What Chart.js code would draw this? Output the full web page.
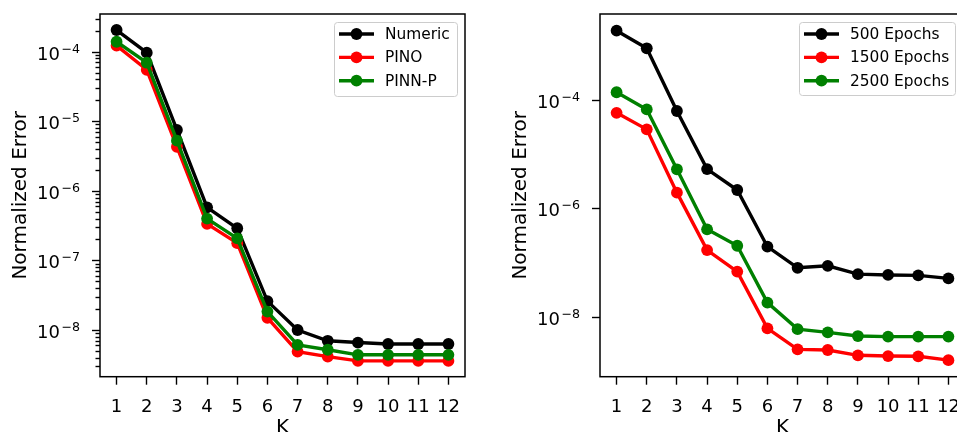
<!DOCTYPE html>
<html>
<head>
<meta charset="utf-8">
<script src="https://cdn.jsdelivr.net/npm/chart.js@4.4.1/dist/chart.umd.min.js"></script>
<style>
  html, body { margin: 0; padding: 0; background: #fff; overflow: hidden; width: 957px; height: 432px; }
  .panel { position: absolute; top: 0; height: 432px; }
  #leftPanel { left: 0; width: 480px; }
  #rightPanel { left: 480px; width: 500px; }
</style>
</head>
<body>
<div class="panel" id="leftPanel"><canvas id="chartK" width="480" height="432"></canvas></div>
<div class="panel" id="rightPanel"><canvas id="chartEpochs" width="500" height="432"></canvas></div>
<script>
// Number of terms K on the horizontal axis
const kValues = [1, 2, 3, 4, 5, 6, 7, 8, 9, 10, 11, 12];

// Left panel: solver comparison
const numericError = [2.05e-4, 9.7e-5, 7.5e-6, 5.8e-7, 2.9e-7, 2.6e-8, 1.0e-8, 7.0e-9, 6.6e-9, 6.3e-9, 6.3e-9, 6.3e-9];
const pinoError    = [1.22e-4, 5.5e-5, 4.3e-6, 3.35e-7, 1.77e-7, 1.5e-8, 4.9e-9, 4.15e-9, 3.6e-9, 3.6e-9, 3.6e-9, 3.6e-9];
const pinnPError   = [1.39e-4, 6.95e-5, 5.26e-6, 4.0e-7, 2.08e-7, 1.84e-8, 6.1e-9, 5.2e-9, 4.4e-9, 4.4e-9, 4.4e-9, 4.4e-9];

// Right panel: training length comparison
const epochs500  = [1.9e-3, 9.0e-4, 6.26e-5, 5.3e-6, 2.18e-6, 1.96e-7, 8.0e-8, 8.7e-8, 6.1e-8, 5.9e-8, 5.8e-8, 5.1e-8];
const epochs1500 = [5.8e-5, 2.87e-5, 1.95e-6, 1.70e-7, 6.8e-8, 6.1e-9, 2.5e-9, 2.43e-9, 1.94e-9, 1.88e-9, 1.86e-9, 1.58e-9];
const epochs2500 = [1.39e-4, 6.7e-5, 5.26e-6, 4.1e-7, 2.04e-7, 1.82e-8, 5.9e-9, 5.14e-9, 4.4e-9, 4.3e-9, 4.3e-9, 4.3e-9];

// Labelled decades (powers of ten) on each y axis
const leftMajorExps  = [-4, -5, -6, -7, -8];
const rightMajorExps = [-4, -6, -8];

// Visible y ranges, as exponents of ten
const leftYRange  = [-8.671, -3.458];
const rightYRange = [-9.107, -2.413];

const FONT = '"DejaVu Sans", "Liberation Sans", sans-serif';
const LINE_WIDTH = 3.4;
const MARKER_RADIUS = 5.9;

function series(values) {
  return kValues.map((k, i) => ({ x: k, y: values[i] }));
}

function makeDataset(label, values, color, order) {
  return {
    label: label,
    data: series(values),
    borderColor: color,
    backgroundColor: color,
    borderWidth: LINE_WIDTH,
    pointRadius: MARKER_RADIUS,
    pointHoverRadius: MARKER_RADIUS,
    pointBorderWidth: 0,
    tension: 0,
    order: order
  };
}

// Draws the axes frame, log-axis ticks with superscript labels, and the legend box
const framePlugin = {
  id: 'frameTicksLegend',
  afterDraw(chart, args, opts) {
    const ctx = chart.ctx;
    const area = chart.chartArea;
    const yScale = chart.scales.y;
    ctx.save();

    // y tick marks
    ctx.strokeStyle = '#000';
    ctx.lineWidth = 1.4;
    const lo = Math.log10(yScale.min), hi = Math.log10(yScale.max);
    if (opts.minorTicks) {
      for (let e = Math.floor(lo); e <= Math.ceil(hi); e++) {
        for (let m = 2; m <= 9; m++) {
          const v = m * Math.pow(10, e);
          if (v < yScale.min || v > yScale.max) continue;
          const y = Math.round(yScale.getPixelForValue(v)) + 0.5;
          ctx.beginPath();
          ctx.moveTo(area.left, y);
          ctx.lineTo(area.left - 4.5, y);
          ctx.stroke();
        }
      }
    }
    opts.majorExps.forEach(e => {
      const y = Math.round(yScale.getPixelForValue(Math.pow(10, e))) + 0.5;
      ctx.beginPath();
      ctx.moveTo(area.left, y);
      ctx.lineTo(area.left - 8, y);
      ctx.stroke();

      // "10" with a raised exponent
      const expText = '\u2212' + Math.abs(e);
      const xRight = area.left - 20;
      ctx.fillStyle = '#000';
      ctx.textBaseline = 'alphabetic';
      ctx.textAlign = 'right';
      ctx.font = '12.6px ' + FONT;
      ctx.fillText(expText, xRight, y + 0.5);
      const expW = ctx.measureText(expText).width;
      ctx.font = '18px ' + FONT;
      ctx.fillText('10', xRight - expW - 1.5, y + 7.6);
    });

    // frame around the plotting area
    ctx.lineWidth = 1.5;
    ctx.strokeRect(area.left, area.top, area.right - area.left, area.bottom - area.top);

    // legend
    const lg = opts.legend;
    const bx = area.right - lg.rightInset - lg.width;
    const by = area.top + lg.topInset;
    ctx.beginPath();
    if (ctx.roundRect) ctx.roundRect(bx + 0.5, by + 0.5, lg.width, lg.height, 3);
    else ctx.rect(bx + 0.5, by + 0.5, lg.width, lg.height);
    ctx.fillStyle = 'rgba(255,255,255,0.8)';
    ctx.fill();
    ctx.strokeStyle = '#cccccc';
    ctx.lineWidth = 1;
    ctx.stroke();

    const rowOffsets = [12, 35.4, 58.7];
    chart.data.datasets.forEach((ds, i) => {
      const cy = by + rowOffsets[i];
      ctx.strokeStyle = ds.borderColor;
      ctx.lineWidth = LINE_WIDTH;
      ctx.beginPath();
      ctx.moveTo(bx + 5, cy);
      ctx.lineTo(bx + 40, cy);
      ctx.stroke();
      ctx.fillStyle = ds.borderColor;
      ctx.beginPath();
      ctx.arc(bx + 22.5, cy, MARKER_RADIUS, 0, Math.PI * 2);
      ctx.fill();
      ctx.fillStyle = '#000';
      ctx.font = '15.4px ' + FONT;
      ctx.textAlign = 'left';
      ctx.textBaseline = 'middle';
      ctx.fillText(ds.label, bx + 51, cy + 1);
    });
    ctx.restore();
  }
};

function buildChart(canvasId, datasets, yRange, yAxisWidth, titlePad, frameOpts) {
  return new Chart(document.getElementById(canvasId), {
    type: 'line',
    data: { datasets: datasets },
    plugins: [framePlugin],
    options: {
      responsive: false,
      animation: false,
      events: [],
      layout: { padding: { top: 14, right: 15, left: 0, bottom: 0 } },
      plugins: {
        legend: { display: false },
        tooltip: { enabled: false },
        frameTicksLegend: frameOpts
      },
      scales: {
        x: {
          type: 'linear',
          min: 0.45,
          max: 12.55,
          afterBuildTicks: s => { s.ticks = kValues.map(v => ({ value: v })); },
          afterFit: s => { s.height = 55.3; },
          grid: { drawOnChartArea: false, drawTicks: true, tickLength: 8, tickWidth: 1.4, tickColor: '#000' },
          border: { display: false },
          ticks: {
            autoSkip: false, maxRotation: 0, minRotation: 0,
            color: '#000', padding: 12,
            font: { family: FONT, size: 18 },
            callback: v => String(v)
          },
          title: {
            display: true, text: 'K', color: '#000',
            font: { family: FONT, size: 20 },
            padding: { top: 0, bottom: -8 }
          }
        },
        y: {
          type: 'logarithmic',
          min: Math.pow(10, yRange[0]),
          max: Math.pow(10, yRange[1]),
          afterFit: s => { s.width = yAxisWidth; },
          grid: { display: false },
          border: { display: false },
          ticks: { display: false },
          title: {
            display: true, text: 'Normalized Error', color: '#000',
            font: { family: FONT, size: 20 },
            padding: { top: titlePad, bottom: 0 }
          }
        }
      }
    }
  });
}

buildChart('chartK', [
  makeDataset('Numeric', numericError, '#000000', 2),
  makeDataset('PINO', pinoError, '#ff0000', 1),
  makeDataset('PINN-P', pinnPError, '#008000', 0)
], leftYRange, 100, 9, {
  majorExps: leftMajorExps, minorTicks: true,
  legend: { rightInset: 8, topInset: 8, width: 123, height: 74 }
});

buildChart('chartEpochs', [
  makeDataset('500 Epochs', epochs500, '#000000', 2),
  makeDataset('1500 Epochs', epochs1500, '#ff0000', 1),
  makeDataset('2500 Epochs', epochs2500, '#008000', 0)
], rightYRange, 120, 29, {
  majorExps: rightMajorExps, minorTicks: false,
  legend: { rightInset: 10, topInset: 8, width: 156, height: 73 }
});
</script>
</body>
</html>
